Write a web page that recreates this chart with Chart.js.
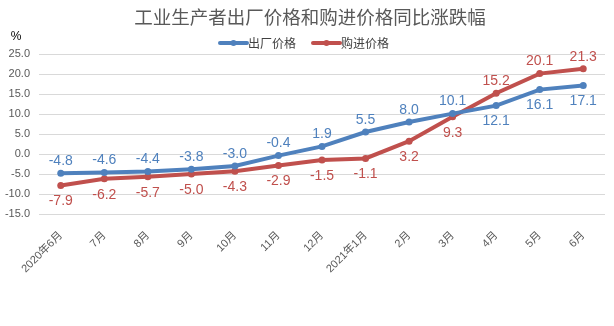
<!DOCTYPE html>
<html>
<head>
<meta charset="utf-8">
<script src="https://cdn.jsdelivr.net/npm/chart.js@4/dist/chart.umd.min.js"></script>
<style>
html,body{margin:0;padding:0;background:#fff;}
#wrap{width:614px;height:326px;position:relative;}
</style>
</head>
<body>
<div id="wrap"><canvas id="c" width="614" height="326"></canvas></div>
<script>
const categories = ['2020年6月','7月','8月','9月','10月','11月','12月','2021年1月','2月','3月','4月','5月','6月'];
const factoryPrices = [-4.8,-4.6,-4.4,-3.8,-3.0,-0.4,1.9,5.5,8.0,10.1,12.1,16.1,17.1];
const purchasePrices = [-7.9,-6.2,-5.7,-5.0,-4.3,-2.9,-1.5,-1.1,3.2,9.3,15.2,20.1,21.3];
const seriesNames = ['出厂价格','购进价格'];
const titleText = '工业生产者出厂价格和购进价格同比涨跌幅';
const unitText = '%';

const BLUE = '#4F81BD';
const RED = '#C0504D';
const FONT = '"Liberation Sans","Noto Sans CJK SC",sans-serif';
const CJK = '"Noto Sans CJK SC",sans-serif';

const overlay = {
  id: 'overlay',
  afterDatasetsDraw(chart) {
    const ctx = chart.ctx;
    ctx.save();
    // title
    ctx.fillStyle = '#595959';
    ctx.font = '18.5px ' + CJK;
    ctx.textAlign = 'center';
    ctx.textBaseline = 'middle';
    ctx.fillText(titleText, 310, 17);
    // unit
    ctx.fillStyle = '#000';
    ctx.font = '12px ' + FONT;
    ctx.fillText(unitText, 16, 37);
    // legend
    const items = [[seriesNames[0], BLUE, 219], [seriesNames[1], RED, 312]];
    items.forEach(([t, col, x]) => {
      ctx.strokeStyle = col; ctx.lineWidth = 4; ctx.lineCap = 'round';
      ctx.beginPath(); ctx.moveTo(x + 1, 43); ctx.lineTo(x + 28, 43); ctx.stroke();
      ctx.fillStyle = col; ctx.beginPath(); ctx.arc(x + 14.5, 43, 3, 0, Math.PI * 2); ctx.fill();
      ctx.fillStyle = '#404040'; ctx.font = '12px ' + CJK; ctx.textAlign = 'left';
      ctx.fillText(t, x + 29, 43);
    });
    // data labels
    ctx.font = '14px ' + FONT;
    ctx.textAlign = 'center';
    const data = [factoryPrices, purchasePrices];
    chart.data.datasets.forEach((ds, di) => {
      const meta = chart.getDatasetMeta(di);
      const other = data[1 - di];
      meta.data.forEach((pt, i) => {
        const above = data[di][i] >= other[i];
        ctx.fillStyle = ds.borderColor;
        ctx.textBaseline = 'middle';
        const y = above ? pt.y - 12 : pt.y + 16;
        ctx.fillText(data[di][i].toFixed(1), pt.x, y);
      });
    });
    ctx.restore();
  }
};

new Chart(document.getElementById('c'), {
  type: 'line',
  data: {
    labels: categories,
    datasets: [
      { label: seriesNames[0], data: factoryPrices, borderColor: BLUE, backgroundColor: BLUE, borderWidth: 4, pointRadius: 3.5, pointBackgroundColor: BLUE, pointBorderWidth: 0, tension: 0 },
      { label: seriesNames[1], data: purchasePrices, borderColor: RED, backgroundColor: RED, borderWidth: 4, pointRadius: 3.5, pointBackgroundColor: RED, pointBorderWidth: 0, tension: 0 }
    ]
  },
  options: {
    responsive: false,
    animation: false,
    devicePixelRatio: 1,
    layout: { padding: { top: 54, right: 9, bottom: 0, left: 0 } },
    plugins: { legend: { display: false }, title: { display: false }, tooltip: { enabled: false } },
    scales: {
      x: {
        offset: true,
        grid: { display: false, drawTicks: false },
        border: { display: false },
        ticks: { minRotation: 45, maxRotation: 45, color: '#595959', font: { size: 11, family: FONT }, padding: 15, autoSkip: false },
        afterFit(s) { s.height = 326 - 214 - 0; }
      },
      y: {
        min: -15, max: 25,
        grid: { color: '#D9D9D9', drawTicks: false, lineWidth: 1 },
        border: { display: false },
        ticks: { stepSize: 5, color: '#595959', font: { size: 11, family: FONT }, padding: 9, callback: v => v.toFixed(1) },
        afterFit(s) { s.width = 39; }
      }
    }
  },
  plugins: [overlay]
});
</script>
</body>
</html>
